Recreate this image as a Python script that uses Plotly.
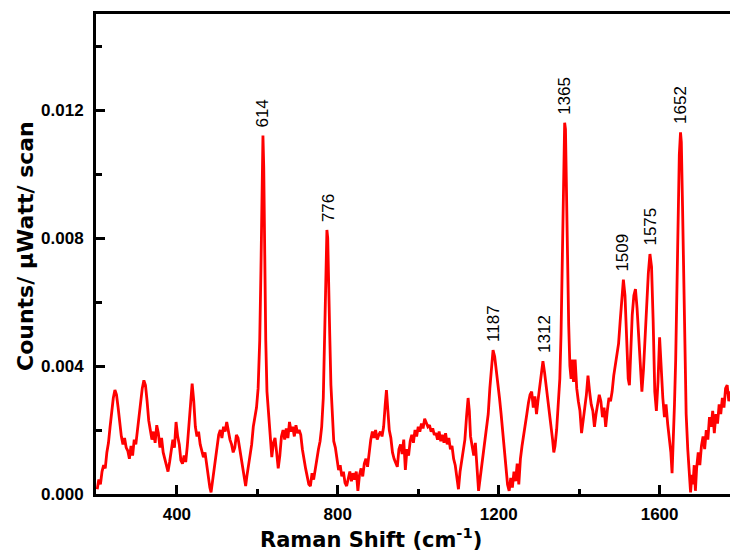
import plotly.graph_objects as go

# Raman shift (cm-1)
raman_shift = [
    202, 206, 210, 214, 218, 222, 226, 230, 234, 238, 242, 246, 250, 254, 258, 262, 266, 270, 274, 278,
    282, 286, 290, 294, 298, 302, 306, 310, 314, 318, 322, 326, 330, 334, 338, 342, 346, 350, 354, 358,
    362, 366, 370, 374, 378, 382, 386, 390, 394, 398, 402, 406, 410, 414, 418, 422, 426, 430, 434, 438,
    442, 446, 450, 454, 458, 462, 466, 470, 474, 478, 482, 485, 488, 492, 496, 500, 504, 508, 512, 516,
    520, 524, 528, 532, 536, 540, 544, 548, 552, 556, 560, 564, 568, 571, 574, 578, 582, 586, 590, 594,
    598, 602, 606, 609, 612, 614, 616, 618, 621, 624, 628, 632, 636, 640, 644, 648, 652, 656, 660, 664,
    668, 672, 676, 680, 684, 688, 692, 696, 700, 704, 708, 712, 716, 720, 724, 728, 732, 736, 740, 744,
    748, 752, 756, 760, 764, 767, 770, 773, 775, 777, 780, 783, 786, 790, 794, 798, 802, 806, 810, 814,
    818, 822, 826, 830, 834, 838, 842, 846, 850, 854, 858, 862, 866, 870, 874, 878, 882, 886, 890, 894,
    898, 902, 906, 910, 914, 918, 921, 924, 928, 932, 936, 940, 944, 948, 952, 956, 960, 964, 968, 972,
    976, 980, 984, 988, 992, 996, 1000, 1004, 1008, 1012, 1016, 1020, 1024, 1028, 1032, 1036, 1040, 1044, 1048, 1052,
    1056, 1060, 1064, 1068, 1072, 1076, 1080, 1084, 1088, 1092, 1096, 1100, 1104, 1108, 1112, 1116, 1120, 1124, 1127, 1130,
    1134, 1138, 1142, 1146, 1150, 1154, 1158, 1162, 1166, 1170, 1174, 1178, 1182, 1186, 1190, 1194, 1198, 1202, 1206, 1210,
    1214, 1218, 1222, 1226, 1230, 1234, 1238, 1242, 1246, 1250, 1254, 1258, 1262, 1266, 1270, 1274, 1278, 1282, 1286, 1290,
    1294, 1298, 1302, 1306, 1310, 1314, 1318, 1322, 1326, 1330, 1334, 1337, 1340, 1344, 1348, 1352, 1355, 1358, 1361, 1364,
    1366, 1368, 1371, 1374, 1377, 1380, 1383, 1386, 1390, 1394, 1398, 1402, 1406, 1410, 1414, 1418, 1422, 1426, 1430, 1434,
    1438, 1442, 1446, 1450, 1454, 1458, 1462, 1466, 1470, 1474, 1478, 1482, 1486, 1490, 1494, 1498, 1502, 1506, 1510, 1514,
    1518, 1522, 1525, 1528, 1532, 1536, 1540, 1544, 1548, 1552, 1556, 1560, 1564, 1568, 1572, 1576, 1580, 1584, 1588, 1592,
    1596, 1600, 1604, 1608, 1612, 1616, 1620, 1624, 1628, 1631, 1634, 1637, 1640, 1643, 1646, 1649, 1652, 1654, 1657, 1660,
    1663, 1666, 1670, 1674, 1677, 1680, 1683, 1686, 1689, 1692, 1696, 1700, 1704, 1708, 1712, 1716, 1720, 1724, 1728, 1732,
    1736, 1740, 1744, 1748, 1752, 1756, 1760, 1764, 1768, 1772, 1776, 1780,
]

# Counts / uWatt / scan
counts = [
    0.00015, 0.00045, 0.00030, 0.00070, 0.00090, 0.00080, 0.00130, 0.00160, 0.00210, 0.00260,
    0.00300, 0.00325, 0.00310, 0.00270, 0.00220, 0.00180, 0.00155, 0.00175, 0.00145, 0.00135,
    0.00110, 0.00150, 0.00120, 0.00170, 0.00155, 0.00200, 0.00240, 0.00290, 0.00330, 0.00355,
    0.00340, 0.00290, 0.00230, 0.00200, 0.00170, 0.00195, 0.00160, 0.00215, 0.00190, 0.00145,
    0.00175, 0.00130, 0.00110, 0.00085, 0.00070, 0.00100, 0.00135, 0.00170, 0.00145, 0.00225,
    0.00180, 0.00155, 0.00105, 0.00095, 0.00120, 0.00100, 0.00150, 0.00220, 0.00300, 0.00345,
    0.00290, 0.00210, 0.00180, 0.00195, 0.00155, 0.00135, 0.00115, 0.00130, 0.00090, 0.00055,
    0.00020, 0.00005, 0.00035, 0.00080, 0.00120, 0.00155, 0.00185, 0.00200, 0.00175, 0.00210,
    0.00195, 0.00225, 0.00190, 0.00170, 0.00155, 0.00130, 0.00145, 0.00185, 0.00175, 0.00140,
    0.00105, 0.00070, 0.00040, 0.00025, 0.00055, 0.00090, 0.00125, 0.00155, 0.00210, 0.00240,
    0.00270, 0.00330, 0.00480, 0.00700, 0.00980, 0.01120, 0.01020, 0.00750, 0.00480, 0.00320,
    0.00240, 0.00190, 0.00115, 0.00160, 0.00175, 0.00130, 0.00080, 0.00120, 0.00180, 0.00200,
    0.00170, 0.00205, 0.00175, 0.00225, 0.00195, 0.00210, 0.00180, 0.00215, 0.00190, 0.00200,
    0.00185, 0.00140, 0.00105, 0.00080, 0.00055, 0.00030, 0.00025, 0.00065, 0.00045, 0.00080,
    0.00110, 0.00140, 0.00165, 0.00210, 0.00300, 0.00450, 0.00680, 0.00825, 0.00800, 0.00710,
    0.00500, 0.00340, 0.00240, 0.00165, 0.00145, 0.00100, 0.00075, 0.00090, 0.00055, 0.00070,
    0.00035, 0.00025, 0.00050, 0.00070, 0.00040, 0.00065, 0.00045, 0.00070, 0.00010, 0.00060,
    0.00080, 0.00055, 0.00095, 0.00110, 0.00085, 0.00140, 0.00170, 0.00195, 0.00175, 0.00200,
    0.00170, 0.00185, 0.00195, 0.00180, 0.00210, 0.00280, 0.00325, 0.00270, 0.00200, 0.00175,
    0.00130, 0.00110, 0.00095, 0.00085, 0.00140, 0.00155, 0.00125, 0.00170, 0.00075, 0.00140,
    0.00120, 0.00165, 0.00185, 0.00160, 0.00200, 0.00180, 0.00210, 0.00195, 0.00220, 0.00205,
    0.00235, 0.00225, 0.00210, 0.00215, 0.00195, 0.00205, 0.00185, 0.00190, 0.00170, 0.00195,
    0.00165, 0.00185, 0.00160, 0.00190, 0.00155, 0.00175, 0.00140, 0.00150, 0.00110, 0.00090,
    0.00055, 0.00015, 0.00070, 0.00100, 0.00135, 0.00170, 0.00240, 0.00300, 0.00260, 0.00180,
    0.00150, 0.00120, 0.00160, 0.00080, 0.00010, 0.00050, 0.00090, 0.00130, 0.00160, 0.00195,
    0.00250, 0.00330, 0.00400, 0.00450, 0.00430, 0.00390, 0.00355, 0.00300, 0.00250, 0.00200,
    0.00140, 0.00080, 0.00030, 0.00010, 0.00050, 0.00020, 0.00070, 0.00040, 0.00095, 0.00030,
    0.00110, 0.00150, 0.00180, 0.00220, 0.00250, 0.00285, 0.00310, 0.00320, 0.00270, 0.00305,
    0.00250, 0.00295, 0.00330, 0.00375, 0.00415, 0.00380, 0.00340, 0.00290, 0.00250, 0.00210,
    0.00170, 0.00130, 0.00150, 0.00200, 0.00280, 0.00360, 0.00500, 0.00750, 0.01000, 0.01160,
    0.01140, 0.00980, 0.00720, 0.00530, 0.00400, 0.00360, 0.00420, 0.00350, 0.00420, 0.00330,
    0.00290, 0.00260, 0.00190, 0.00240, 0.00270, 0.00310, 0.00370, 0.00320, 0.00280, 0.00260,
    0.00210, 0.00250, 0.00280, 0.00310, 0.00290, 0.00240, 0.00270, 0.00210, 0.00260, 0.00300,
    0.00290, 0.00320, 0.00370, 0.00400, 0.00440, 0.00470, 0.00540, 0.00620, 0.00670, 0.00620,
    0.00500, 0.00360, 0.00340, 0.00450, 0.00560, 0.00620, 0.00640, 0.00580, 0.00480, 0.00380,
    0.00320, 0.00390, 0.00500, 0.00610, 0.00690, 0.00750, 0.00710, 0.00540, 0.00320, 0.00260,
    0.00350, 0.00490, 0.00380, 0.00300, 0.00240, 0.00280, 0.00220, 0.00180, 0.00130, 0.00065,
    0.00150, 0.00280, 0.00420, 0.00650, 0.00880, 0.01060, 0.01130, 0.01100, 0.00900, 0.00650,
    0.00400, 0.00250, 0.00140, 0.00060, 0.00005, 0.00060, 0.00030, 0.00090, 0.00010, 0.00080,
    0.00130, 0.00090, 0.00150, 0.00180, 0.00140, 0.00200, 0.00170, 0.00240, 0.00210, 0.00260,
    0.00190, 0.00250, 0.00220, 0.00280, 0.00250, 0.00300, 0.00270, 0.00330, 0.00340, 0.00290,
    0.00320, 0.00300,
]

peak_labels = [614, 776, 1187, 1312, 1365, 1509, 1575, 1652]

x_tick_values = [400, 800, 1200, 1600]
y_tick_values = [0.000, 0.004, 0.008, 0.012]
y_tick_text = ["0.000", "0.004", "0.008", "0.012"]

FONT = "Liberation Sans, Arial, sans-serif"
TITLE_FONT = "DejaVu Sans, Liberation Sans, sans-serif"

fig = go.Figure()
fig.add_trace(go.Scatter(
    x=raman_shift, y=counts, mode="lines",
    line=dict(color="#ff0000", width=2.8),
    hoverinfo="skip", showlegend=False,
))

annotations = []
for lab in peak_labels:
    near = [c for s, c in zip(raman_shift, counts) if abs(s - lab) <= 8]
    annotations.append(dict(
        x=lab, y=max(near), xref="x", yref="y", text=str(lab),
        textangle=-90, showarrow=False, xanchor="center", yanchor="bottom",
        yshift=6, font=dict(family=FONT, size=17, color="black"),
    ))

annotations.append(dict(
    x=(371 - 96) / 634, y=(494 - 538) / 480, xref="paper", yref="paper",
    text="Raman Shift (cm<sup>-1</sup>)", showarrow=False,
    xanchor="center", yanchor="middle", borderpad=0,
    font=dict(family=TITLE_FONT, size=21, color="black", weight="bold"),
))
annotations.append(dict(
    x=(26 - 96) / 634, y=(494 - 246) / 480, xref="paper", yref="paper",
    text="Counts/ μWatt/ scan", showarrow=False, textangle=-90,
    xanchor="center", yanchor="middle",
    font=dict(family=TITLE_FONT, size=22, color="black", weight="bold"),
))

fig.update_layout(
    width=730, height=552,
    margin=dict(l=96, r=0, t=14, b=58),
    paper_bgcolor="white", plot_bgcolor="white",
    annotations=annotations,
    xaxis=dict(
        range=[199, 1775], showgrid=False, zeroline=False,
        showline=True, linecolor="black", linewidth=3, mirror=True,
        ticks="inside", ticklen=9, tickwidth=2.5, tickcolor="black",
        tickvals=x_tick_values, ticklabelstandoff=3,
        tickfont=dict(family=FONT, size=17, color="black", weight="bold"),
        minor=dict(ticks="inside", ticklen=5, tickwidth=2.5, tickcolor="black",
                   tickvals=[600, 1000, 1400]),
    ),
    yaxis=dict(
        range=[0, 0.015], showgrid=False, zeroline=False,
        showline=True, linecolor="black", linewidth=3,
        ticks="inside", ticklen=9, tickwidth=2.5, tickcolor="black",
        tickvals=y_tick_values, ticktext=y_tick_text, ticklabelstandoff=6,
        tickfont=dict(family=FONT, size=17, color="black", weight="bold"),
        minor=dict(ticks="inside", ticklen=6, tickwidth=2.5, tickcolor="black",
                   tickvals=[0.002, 0.006, 0.010, 0.014]),
    ),
)

fig.write_html("out.html")
